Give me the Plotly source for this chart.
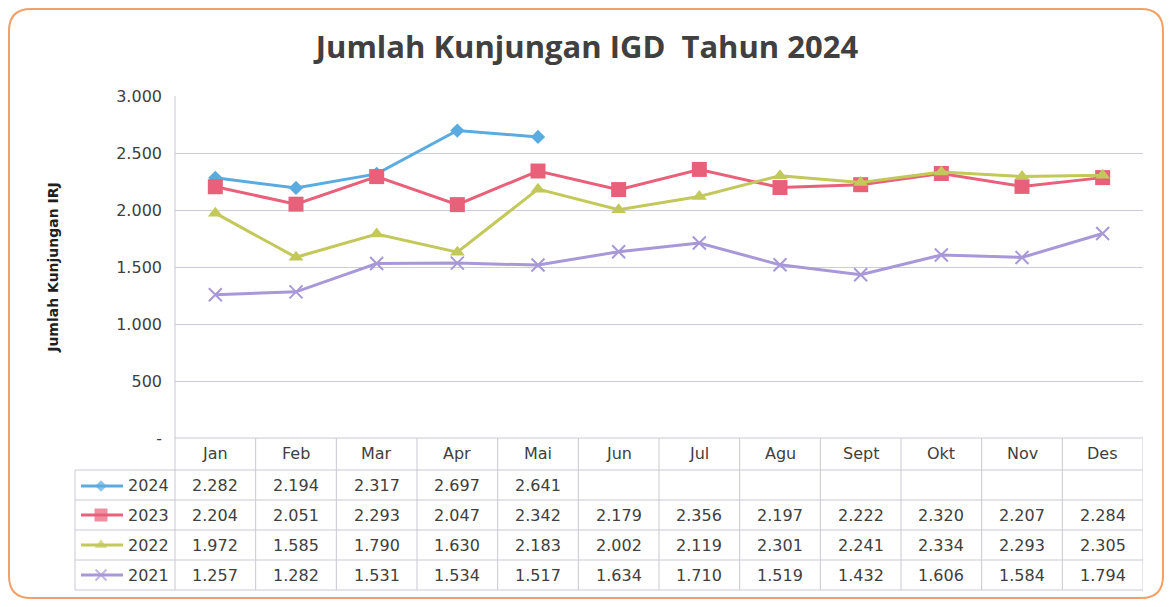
import plotly.graph_objects as go

# data
months = ["Jan", "Feb", "Mar", "Apr", "Mai", "Jun", "Jul", "Agu", "Sept", "Okt", "Nov", "Des"]
years = ["2024", "2023", "2022", "2021"]
v2024 = [2282, 2194, 2317, 2697, 2641, None, None, None, None, None, None, None]
v2023 = [2204, 2051, 2293, 2047, 2342, 2179, 2356, 2197, 2222, 2320, 2207, 2284]
v2022 = [1972, 1585, 1790, 1630, 2183, 2002, 2119, 2301, 2241, 2334, 2293, 2305]
v2021 = [1257, 1282, 1531, 1534, 1517, 1634, 1710, 1519, 1432, 1606, 1584, 1794]
y_ticks = [0, 500, 1000, 1500, 2000, 2500, 3000]
y_ticktext = ["-", "500", "1.000", "1.500", "2.000", "2.500", "3.000"]

series = [v2024, v2023, v2022, v2021]
colors = ["#5aace0", "#e8607a", "#c2c85a", "#a898d8"]
symbols = ["diamond", "square", "triangle-up", "x-thin-open"]
msizes = [11, 15, 13, 13]

# the page body has an 8px margin, so the figure is shrunk to fit the window
OFF = 8
W, H = 1172 - 2 * OFF, 607 - 2 * OFF
FONT = "DejaVu Sans"
TXT = "#404040"
GRID = "#cccce0"


def px(x):
    return (x - OFF) / W


def py(y):
    return 1 - (y - OFF) / H


def fmt(v):
    return "" if v is None else f"{v:,}".replace(",", ".")


x_idx = list(range(len(months)))
fig = go.Figure()

for name, vals, c, s, ms in zip(years, series, colors, symbols, msizes):
    fig.add_trace(go.Scatter(
        x=x_idx, y=vals, name=name, mode="lines+markers",
        line=dict(color=c, width=3),
        marker=dict(symbol=s, size=ms, color=c,
                    line=dict(color=c, width=2 if s.startswith("x") else 0)),
        showlegend=False,
    ))

# table rows (pixel rows)
header_y = 453
row_y = [486, 515, 545, 575]
row_lines = [438, 470, 500, 530, 560, 590]
leg_left = 75
plot_l, plot_r, plot_t, plot_b = 175, 1143, 96, 438

# legend keys in the table, drawn on an overlay pixel axis
for name, c, s, ms, ry in zip(years, colors, symbols, msizes, row_y):
    fig.add_trace(go.Scatter(
        x=[81, 101, 123], y=[ry, ry, ry], mode="lines+markers", xaxis="x2", yaxis="y2",
        line=dict(color=c, width=3),
        marker=dict(symbol=s, size=[0, ms - 2, 0], color=c,
                    line=dict(color=c, width=2 if s.startswith("x") else 0)),
        showlegend=False, hoverinfo="skip",
    ))

shapes = []
lc = dict(color="#c8c8d4", width=1)
# horizontal table lines
for i, yy in enumerate(row_lines):
    x0 = plot_l if i == 0 else leg_left
    shapes.append(dict(type="line", xref="paper", yref="paper", layer="below",
                       x0=px(x0), x1=px(plot_r), y0=py(yy), y1=py(yy), line=lc))
# vertical table lines
shapes.append(dict(type="line", xref="paper", yref="paper", layer="below",
                   x0=px(leg_left), x1=px(leg_left), y0=py(row_lines[1]), y1=py(row_lines[-1]), line=lc))
shapes.append(dict(type="line", xref="paper", yref="paper", layer="below",
                   x0=px(plot_l), x1=px(plot_l), y0=py(plot_t), y1=py(row_lines[-1]), line=lc))
for k in range(1, len(months) + 1):
    shapes.append(dict(type="line", xref="x", yref="paper", layer="below",
                       x0=k - 0.5, x1=k - 0.5, y0=py(row_lines[0]), y1=py(row_lines[-1]), line=lc))

# orange rounded border
L, R, T, B, r = 9, 1163, 9, 598, 22
path = (f"M {px(L + r)},{py(T)} L {px(R - r)},{py(T)} Q {px(R)},{py(T)} {px(R)},{py(T + r)} "
        f"L {px(R)},{py(B - r)} Q {px(R)},{py(B)} {px(R - r)},{py(B)} "
        f"L {px(L + r)},{py(B)} Q {px(L)},{py(B)} {px(L)},{py(B - r)} "
        f"L {px(L)},{py(T + r)} Q {px(L)},{py(T)} {px(L + r)},{py(T)} Z")
shapes.append(dict(type="path", xref="paper", yref="paper", path=path,
                   line=dict(color="#f2a065", width=2)))

annotations = []
cell_font = dict(family=FONT, size=16, color=TXT)
for i, m in enumerate(months):
    annotations.append(dict(x=i, y=py(header_y), xref="x", yref="paper", text=m,
                            yanchor="middle", showarrow=False, font=cell_font))
for name, vals, ry in zip(years, series, row_y):
    annotations.append(dict(x=px(171), y=py(ry), xref="paper", yref="paper", text=name,
                            xanchor="right", yanchor="middle", showarrow=False, font=cell_font))
    for i, v in enumerate(vals):
        annotations.append(dict(x=i, y=py(ry), xref="x", yref="paper", text=fmt(v),
                                yanchor="middle", showarrow=False, font=cell_font))

fig.update_layout(
    width=W, height=H,
    margin=dict(l=0, r=0, t=0, b=0, pad=0, autoexpand=False),
    paper_bgcolor="white", plot_bgcolor="rgba(0,0,0,0)",
    title=dict(text="<b>Jumlah Kunjungan IGD  Tahun 2024</b>", x=px(587), xanchor="center",
               y=py(47), yanchor="middle", font=dict(family="Open Sans", size=31, color=TXT)),
    xaxis=dict(domain=[px(plot_l), px(plot_r)], range=[-0.5, 11.5], showticklabels=False,
               showgrid=False, zeroline=False, showline=False, fixedrange=True, automargin=False),
    yaxis=dict(domain=[py(plot_b), py(plot_t)], range=[0, 3000], tickvals=y_ticks,
               ticktext=y_ticktext, showgrid=True, gridcolor=GRID, gridwidth=1,
               zeroline=False, showline=False, ticks="", ticklabelstandoff=12, automargin=False,
               tickfont=dict(family=FONT, size=16, color=TXT),
               title=dict(text="<b>Jumlah Kunjungan IRJ</b>", standoff=54,
                          font=dict(family=FONT, size=14, color="#202020"))),
    xaxis2=dict(domain=[0, 1], range=[OFF, W + OFF], visible=False, fixedrange=True,
                anchor="y2", automargin=False),
    yaxis2=dict(domain=[0, 1], range=[H + OFF, OFF], visible=False, fixedrange=True,
                anchor="x2", automargin=False),
    shapes=shapes, annotations=annotations,
)

fig.write_html("out.html")
